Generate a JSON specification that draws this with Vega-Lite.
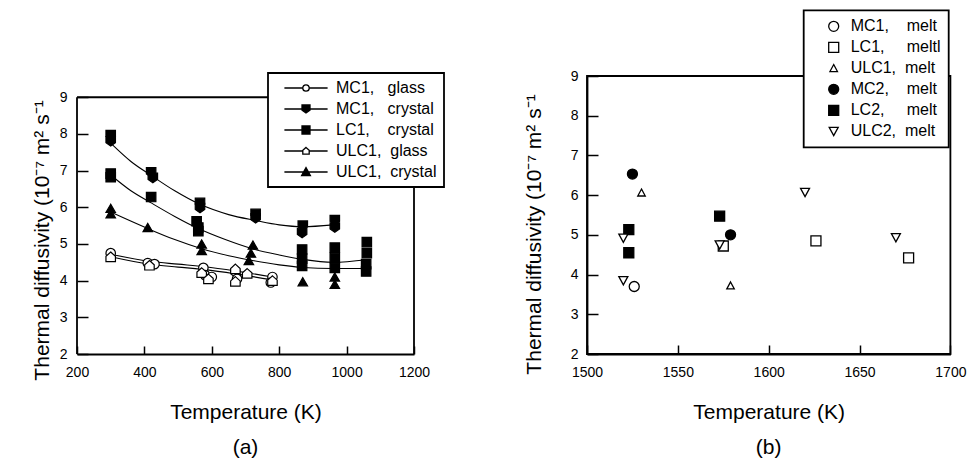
{
  "$schema": "https://vega.github.io/schema/vega-lite/v6.json",
  "padding": {"left": 31, "top": 8, "right": 5, "bottom": 0},
  "bounds": "flush",
  "spacing": 173,
  "resolve": {
    "scale": {"x": "independent", "y": "independent", "shape": "independent", "fill": "independent"},
    "legend": {"shape": "independent", "fill": "independent"}
  },
  "config": {
    "font": "Liberation Sans",
    "view": {"stroke": null},
    "axis": {"grid": false, "labelFontSize": 14, "titleFontSize": 21, "titleFontWeight": "normal", "labelColor": "black", "titleColor": "black", "tickColor": "black", "domainColor": "black", "domainWidth": 1.8, "tickWidth": 1.5, "labelFont": "Liberation Sans", "titleFont": "Liberation Sans", "labelOverlap": false, "labelFlush": false, "format": "d"},
    "legend": {"labelFontSize": 16, "labelColor": "black", "labelFont": "Liberation Sans", "strokeColor": "black", "fillColor": "white", "strokeWidth": 1.8, "rowPadding": 5, "labelLimit": 300, "symbolOpacity": 1},
    "title": {"fontSize": 21, "fontWeight": "normal", "color": "black", "font": "Liberation Sans"}
  },
  "datasets": {
    "fit_a": [
      {"series": "MC1,\u00a0\u00a0\u00a0crystal", "T": 300, "D": 7.75},
      {"series": "MC1,\u00a0\u00a0\u00a0crystal", "T": 360, "D": 7.25},
      {"series": "MC1,\u00a0\u00a0\u00a0crystal", "T": 420, "D": 6.87},
      {"series": "MC1,\u00a0\u00a0\u00a0crystal", "T": 490, "D": 6.45},
      {"series": "MC1,\u00a0\u00a0\u00a0crystal", "T": 565, "D": 6.08},
      {"series": "MC1,\u00a0\u00a0\u00a0crystal", "T": 650, "D": 5.8},
      {"series": "MC1,\u00a0\u00a0\u00a0crystal", "T": 730, "D": 5.64},
      {"series": "MC1,\u00a0\u00a0\u00a0crystal", "T": 800, "D": 5.52},
      {"series": "MC1,\u00a0\u00a0\u00a0crystal", "T": 870, "D": 5.47},
      {"series": "MC1,\u00a0\u00a0\u00a0crystal", "T": 960, "D": 5.52},
      {"series": "LC1,\u00a0\u00a0\u00a0\u00a0crystal", "T": 300, "D": 6.88},
      {"series": "LC1,\u00a0\u00a0\u00a0\u00a0crystal", "T": 360, "D": 6.45},
      {"series": "LC1,\u00a0\u00a0\u00a0\u00a0crystal", "T": 420, "D": 6.12},
      {"series": "LC1,\u00a0\u00a0\u00a0\u00a0crystal", "T": 490, "D": 5.75},
      {"series": "LC1,\u00a0\u00a0\u00a0\u00a0crystal", "T": 560, "D": 5.42},
      {"series": "LC1,\u00a0\u00a0\u00a0\u00a0crystal", "T": 640, "D": 5.12},
      {"series": "LC1,\u00a0\u00a0\u00a0\u00a0crystal", "T": 720, "D": 4.87},
      {"series": "LC1,\u00a0\u00a0\u00a0\u00a0crystal", "T": 800, "D": 4.7},
      {"series": "LC1,\u00a0\u00a0\u00a0\u00a0crystal", "T": 870, "D": 4.58},
      {"series": "LC1,\u00a0\u00a0\u00a0\u00a0crystal", "T": 960, "D": 4.5},
      {"series": "LC1,\u00a0\u00a0\u00a0\u00a0crystal", "T": 1060, "D": 4.57},
      {"series": "ULC1,\u00a0\u00a0crystal", "T": 300, "D": 5.87},
      {"series": "ULC1,\u00a0\u00a0crystal", "T": 410, "D": 5.42},
      {"series": "ULC1,\u00a0\u00a0crystal", "T": 490, "D": 5.12},
      {"series": "ULC1,\u00a0\u00a0crystal", "T": 570, "D": 4.87},
      {"series": "ULC1,\u00a0\u00a0crystal", "T": 650, "D": 4.68},
      {"series": "ULC1,\u00a0\u00a0crystal", "T": 720, "D": 4.55},
      {"series": "ULC1,\u00a0\u00a0crystal", "T": 800, "D": 4.43},
      {"series": "ULC1,\u00a0\u00a0crystal", "T": 870, "D": 4.36},
      {"series": "ULC1,\u00a0\u00a0crystal", "T": 960, "D": 4.33},
      {"series": "ULC1,\u00a0\u00a0crystal", "T": 1060, "D": 4.33},
      {"series": "MC1,\u00a0\u00a0\u00a0glass", "T": 300, "D": 4.72},
      {"series": "MC1,\u00a0\u00a0\u00a0glass", "T": 420, "D": 4.52},
      {"series": "MC1,\u00a0\u00a0\u00a0glass", "T": 500, "D": 4.45},
      {"series": "MC1,\u00a0\u00a0\u00a0glass", "T": 580, "D": 4.38},
      {"series": "MC1,\u00a0\u00a0\u00a0glass", "T": 680, "D": 4.25},
      {"series": "MC1,\u00a0\u00a0\u00a0glass", "T": 780, "D": 4.1},
      {"series": "ULC1,\u00a0\u00a0glass", "T": 300, "D": 4.65},
      {"series": "ULC1,\u00a0\u00a0glass", "T": 420, "D": 4.44},
      {"series": "ULC1,\u00a0\u00a0glass", "T": 500, "D": 4.37},
      {"series": "ULC1,\u00a0\u00a0glass", "T": 580, "D": 4.3},
      {"series": "ULC1,\u00a0\u00a0glass", "T": 680, "D": 4.17},
      {"series": "ULC1,\u00a0\u00a0glass", "T": 780, "D": 4.02}
    ],
    "obs_a": [
      {"series": "MC1,\u00a0\u00a0\u00a0crystal", "T": 300, "D": 7.97},
      {"series": "MC1,\u00a0\u00a0\u00a0crystal", "T": 300, "D": 7.8},
      {"series": "MC1,\u00a0\u00a0\u00a0crystal", "T": 420, "D": 6.95},
      {"series": "MC1,\u00a0\u00a0\u00a0crystal", "T": 425, "D": 6.8},
      {"series": "MC1,\u00a0\u00a0\u00a0crystal", "T": 565, "D": 6.12},
      {"series": "MC1,\u00a0\u00a0\u00a0crystal", "T": 565, "D": 5.98},
      {"series": "MC1,\u00a0\u00a0\u00a0crystal", "T": 730, "D": 5.82},
      {"series": "MC1,\u00a0\u00a0\u00a0crystal", "T": 730, "D": 5.7},
      {"series": "MC1,\u00a0\u00a0\u00a0crystal", "T": 870, "D": 5.5},
      {"series": "MC1,\u00a0\u00a0\u00a0crystal", "T": 868, "D": 5.3},
      {"series": "MC1,\u00a0\u00a0\u00a0crystal", "T": 965, "D": 5.65},
      {"series": "MC1,\u00a0\u00a0\u00a0crystal", "T": 965, "D": 5.45},
      {"series": "LC1,\u00a0\u00a0\u00a0\u00a0crystal", "T": 300, "D": 6.92},
      {"series": "LC1,\u00a0\u00a0\u00a0\u00a0crystal", "T": 300, "D": 6.82},
      {"series": "LC1,\u00a0\u00a0\u00a0\u00a0crystal", "T": 420, "D": 6.28},
      {"series": "LC1,\u00a0\u00a0\u00a0\u00a0crystal", "T": 555, "D": 5.62},
      {"series": "LC1,\u00a0\u00a0\u00a0\u00a0crystal", "T": 560, "D": 5.45},
      {"series": "LC1,\u00a0\u00a0\u00a0\u00a0crystal", "T": 560, "D": 5.35},
      {"series": "LC1,\u00a0\u00a0\u00a0\u00a0crystal", "T": 868, "D": 4.85},
      {"series": "LC1,\u00a0\u00a0\u00a0\u00a0crystal", "T": 868, "D": 4.6},
      {"series": "LC1,\u00a0\u00a0\u00a0\u00a0crystal", "T": 868, "D": 4.4},
      {"series": "LC1,\u00a0\u00a0\u00a0\u00a0crystal", "T": 965, "D": 4.9},
      {"series": "LC1,\u00a0\u00a0\u00a0\u00a0crystal", "T": 965, "D": 4.62},
      {"series": "LC1,\u00a0\u00a0\u00a0\u00a0crystal", "T": 965, "D": 4.35},
      {"series": "LC1,\u00a0\u00a0\u00a0\u00a0crystal", "T": 1060, "D": 5.05},
      {"series": "LC1,\u00a0\u00a0\u00a0\u00a0crystal", "T": 1060, "D": 4.75},
      {"series": "LC1,\u00a0\u00a0\u00a0\u00a0crystal", "T": 1058, "D": 4.45},
      {"series": "LC1,\u00a0\u00a0\u00a0\u00a0crystal", "T": 1058, "D": 4.25},
      {"series": "ULC1,\u00a0\u00a0crystal", "T": 300, "D": 5.97},
      {"series": "ULC1,\u00a0\u00a0crystal", "T": 300, "D": 5.82},
      {"series": "ULC1,\u00a0\u00a0crystal", "T": 410, "D": 5.45},
      {"series": "ULC1,\u00a0\u00a0crystal", "T": 570, "D": 5.0},
      {"series": "ULC1,\u00a0\u00a0crystal", "T": 570, "D": 4.82},
      {"series": "ULC1,\u00a0\u00a0crystal", "T": 722, "D": 4.97},
      {"series": "ULC1,\u00a0\u00a0crystal", "T": 716, "D": 4.75},
      {"series": "ULC1,\u00a0\u00a0crystal", "T": 710, "D": 4.55},
      {"series": "ULC1,\u00a0\u00a0crystal", "T": 870, "D": 3.97},
      {"series": "ULC1,\u00a0\u00a0crystal", "T": 965, "D": 4.1},
      {"series": "ULC1,\u00a0\u00a0crystal", "T": 965, "D": 3.9},
      {"series": "MC1,\u00a0\u00a0\u00a0glass", "T": 300, "D": 4.75},
      {"series": "MC1,\u00a0\u00a0\u00a0glass", "T": 410, "D": 4.48},
      {"series": "MC1,\u00a0\u00a0\u00a0glass", "T": 430, "D": 4.45},
      {"series": "MC1,\u00a0\u00a0\u00a0glass", "T": 575, "D": 4.35},
      {"series": "MC1,\u00a0\u00a0\u00a0glass", "T": 580, "D": 4.15},
      {"series": "MC1,\u00a0\u00a0\u00a0glass", "T": 600, "D": 4.1},
      {"series": "MC1,\u00a0\u00a0\u00a0glass", "T": 670, "D": 4.25},
      {"series": "MC1,\u00a0\u00a0\u00a0glass", "T": 675, "D": 4.05},
      {"series": "MC1,\u00a0\u00a0\u00a0glass", "T": 780, "D": 4.1},
      {"series": "MC1,\u00a0\u00a0\u00a0glass", "T": 775, "D": 3.95},
      {"series": "ULC1,\u00a0\u00a0glass", "T": 300, "D": 4.65},
      {"series": "ULC1,\u00a0\u00a0glass", "T": 415, "D": 4.42},
      {"series": "ULC1,\u00a0\u00a0glass", "T": 570, "D": 4.22},
      {"series": "ULC1,\u00a0\u00a0glass", "T": 590, "D": 4.05},
      {"series": "ULC1,\u00a0\u00a0glass", "T": 670, "D": 4.32},
      {"series": "ULC1,\u00a0\u00a0glass", "T": 670, "D": 3.98},
      {"series": "ULC1,\u00a0\u00a0glass", "T": 705, "D": 4.2},
      {"series": "ULC1,\u00a0\u00a0glass", "T": 780, "D": 4.0}
    ],
    "melt_b": [
      {"series": "MC1,\u00a0\u00a0\u00a0\u00a0melt", "T": 1526, "D": 3.7},
      {"series": "LC1,\u00a0\u00a0\u00a0\u00a0\u00a0meltl", "T": 1575, "D": 4.72},
      {"series": "LC1,\u00a0\u00a0\u00a0\u00a0\u00a0meltl", "T": 1626, "D": 4.85},
      {"series": "LC1,\u00a0\u00a0\u00a0\u00a0\u00a0meltl", "T": 1677, "D": 4.42},
      {"series": "ULC1,\u00a0\u00a0melt", "T": 1530, "D": 6.06},
      {"series": "ULC1,\u00a0\u00a0melt", "T": 1579, "D": 3.72},
      {"series": "MC2,\u00a0\u00a0\u00a0\u00a0melt", "T": 1525, "D": 6.53},
      {"series": "MC2,\u00a0\u00a0\u00a0\u00a0melt", "T": 1579, "D": 5.0},
      {"series": "LC2,\u00a0\u00a0\u00a0\u00a0\u00a0melt", "T": 1523, "D": 5.13},
      {"series": "LC2,\u00a0\u00a0\u00a0\u00a0\u00a0melt", "T": 1523, "D": 4.55},
      {"series": "LC2,\u00a0\u00a0\u00a0\u00a0\u00a0melt", "T": 1573, "D": 5.47},
      {"series": "ULC2,\u00a0\u00a0melt", "T": 1520, "D": 4.92},
      {"series": "ULC2,\u00a0\u00a0melt", "T": 1520, "D": 3.85},
      {"series": "ULC2,\u00a0\u00a0melt", "T": 1573, "D": 4.75},
      {"series": "ULC2,\u00a0\u00a0melt", "T": 1620, "D": 6.07},
      {"series": "ULC2,\u00a0\u00a0melt", "T": 1670, "D": 4.93}
    ]
  },
  "hconcat": [
    {
      "width": 337,
      "height": 278,
      "title": {"text": "(a)", "orient": "bottom", "offset": 15, "anchor": "middle"},
      "resolve": {
        "scale": {"shape": "independent", "fill": "independent"},
        "legend": {"shape": "independent", "fill": "independent"}
      },
      "layer": [
        {
          "data": {"values": [{}]},
          "mark": {"type": "rule", "strokeWidth": 1.8, "color": "black"},
          "encoding": {
            "x": {"datum": 200, "type": "quantitative", "scale": {"domain": [200, 1200], "nice": false, "zero": false}, "axis": {"values": [200, 400, 600, 800, 1000, 1200], "title": "Temperature (K)", "tickSize": -8, "labelPadding": 19, "titlePadding": 22, "labelFlush": false, "labelOverlap": false}},
            "y": {"datum": 2, "type": "quantitative", "scale": {"domain": [2, 9.58], "nice": false, "zero": false}, "axis": {"values": [2, 3, 4, 5, 6, 7, 8, 9], "title": "Thermal diffusivity (10⁻⁷ m² s⁻¹", "domain": false, "tickSize": -11, "labelPadding": 21, "titlePadding": 7, "titleY": 164, "labelFlush": false, "labelOverlap": false}},
            "y2": {"datum": 9}
          }
        },
        {
          "data": {"values": [{}]},
          "mark": {"type": "rule", "strokeWidth": 1.8, "color": "black"},
          "encoding": {
            "x": {"datum": 1200, "type": "quantitative", "scale": {"domain": [200, 1200], "nice": false, "zero": false}, "axis": {"values": [200, 400, 600, 800, 1000, 1200], "title": "Temperature (K)", "tickSize": -8, "labelPadding": 19, "titlePadding": 22, "labelFlush": false, "labelOverlap": false}},
            "y": {"datum": 2, "type": "quantitative", "scale": {"domain": [2, 9.58], "nice": false, "zero": false}, "axis": {"values": [2, 3, 4, 5, 6, 7, 8, 9], "title": "Thermal diffusivity (10⁻⁷ m² s⁻¹", "domain": false, "tickSize": -11, "labelPadding": 21, "titlePadding": 7, "titleY": 164, "labelFlush": false, "labelOverlap": false}},
            "y2": {"datum": 9}
          }
        },
        {
          "data": {"values": [{}]},
          "mark": {"type": "rule", "strokeWidth": 1.8, "color": "black"},
          "encoding": {
            "x": {"datum": 200, "type": "quantitative", "scale": {"domain": [200, 1200], "nice": false, "zero": false}, "axis": {"values": [200, 400, 600, 800, 1000, 1200], "title": "Temperature (K)", "tickSize": -8, "labelPadding": 19, "titlePadding": 22, "labelFlush": false, "labelOverlap": false}},
            "x2": {"datum": 1200},
            "y": {"datum": 9, "type": "quantitative", "scale": {"domain": [2, 9.58], "nice": false, "zero": false}, "axis": {"values": [2, 3, 4, 5, 6, 7, 8, 9], "title": "Thermal diffusivity (10⁻⁷ m² s⁻¹", "domain": false, "tickSize": -11, "labelPadding": 21, "titlePadding": 7, "titleY": 164, "labelFlush": false, "labelOverlap": false}}
          }
        },
        {
          "data": {"name": "fit_a"},
          "mark": {"type": "line", "interpolate": "monotone", "color": "black", "strokeWidth": 1.1},
          "encoding": {
            "x": {"field": "T", "type": "quantitative", "scale": {"domain": [200, 1200], "nice": false, "zero": false}, "axis": {"values": [200, 400, 600, 800, 1000, 1200], "title": "Temperature (K)", "tickSize": -8, "labelPadding": 19, "titlePadding": 22, "labelFlush": false, "labelOverlap": false}},
            "y": {"field": "D", "type": "quantitative", "scale": {"domain": [2, 9.58], "nice": false, "zero": false}, "axis": {"values": [2, 3, 4, 5, 6, 7, 8, 9], "title": "Thermal diffusivity (10⁻⁷ m² s⁻¹", "domain": false, "tickSize": -11, "labelPadding": 21, "titlePadding": 7, "titleY": 164, "labelFlush": false, "labelOverlap": false}},
            "detail": {"field": "series", "type": "nominal"}
          }
        },
        {
          "data": {"name": "obs_a"},
          "mark": {"type": "point", "filled": true, "stroke": "black", "strokeWidth": 1.2, "size": 90, "opacity": 1},
          "encoding": {
            "x": {"field": "T", "type": "quantitative", "scale": {"domain": [200, 1200], "nice": false, "zero": false}, "axis": {"values": [200, 400, 600, 800, 1000, 1200], "title": "Temperature (K)", "tickSize": -8, "labelPadding": 19, "titlePadding": 22, "labelFlush": false, "labelOverlap": false}},
            "y": {"field": "D", "type": "quantitative", "scale": {"domain": [2, 9.58], "nice": false, "zero": false}, "axis": {"values": [2, 3, 4, 5, 6, 7, 8, 9], "title": "Thermal diffusivity (10⁻⁷ m² s⁻¹", "domain": false, "tickSize": -11, "labelPadding": 21, "titlePadding": 7, "titleY": 164, "labelFlush": false, "labelOverlap": false}},
            "shape": {
              "field": "series", "type": "nominal",
              "scale": {
                "domain": ["MC1,\u00a0\u00a0\u00a0glass", "MC1,\u00a0\u00a0\u00a0crystal", "LC1,\u00a0\u00a0\u00a0\u00a0crystal", "ULC1,\u00a0\u00a0glass", "ULC1,\u00a0\u00a0crystal"],
                "range": ["circle", "M-1,-1H1V0.3L0,1L-1,0.3Z", "square", "M0,-1L1,-0.1V1H-1V-0.1Z", "triangle-up"]
              },
              "legend": null
            },
            "fill": {
              "field": "series", "type": "nominal",
              "scale": {
                "domain": ["MC1,\u00a0\u00a0\u00a0glass", "MC1,\u00a0\u00a0\u00a0crystal", "LC1,\u00a0\u00a0\u00a0\u00a0crystal", "ULC1,\u00a0\u00a0glass", "ULC1,\u00a0\u00a0crystal"],
                "range": ["white", "black", "black", "white", "black"]
              },
              "legend": null
            }
          }
        },
        {
          "data": {"name": "obs_a"},
          "mark": {"type": "point", "filled": true, "stroke": "black", "strokeWidth": 1.3, "size": 64, "opacity": 0},
          "encoding": {
            "x": {"field": "T", "type": "quantitative", "scale": {"domain": [200, 1200], "nice": false, "zero": false}, "axis": {"values": [200, 400, 600, 800, 1000, 1200], "title": "Temperature (K)", "tickSize": -8, "labelPadding": 19, "titlePadding": 22, "labelFlush": false, "labelOverlap": false}},
            "y": {"field": "D", "type": "quantitative", "scale": {"domain": [2, 9.58], "nice": false, "zero": false}, "axis": {"values": [2, 3, 4, 5, 6, 7, 8, 9], "title": "Thermal diffusivity (10⁻⁷ m² s⁻¹", "domain": false, "tickSize": -11, "labelPadding": 21, "titlePadding": 7, "titleY": 164, "labelFlush": false, "labelOverlap": false}},
            "shape": {
              "field": "series", "type": "nominal",
              "scale": {
                "domain": ["MC1,\u00a0\u00a0\u00a0glass", "MC1,\u00a0\u00a0\u00a0crystal", "LC1,\u00a0\u00a0\u00a0\u00a0crystal", "ULC1,\u00a0\u00a0glass", "ULC1,\u00a0\u00a0crystal"],
                "range": ["M-5.4,0H-0.8M0.8,0H5.4M0.8,0A0.8,0.8,0,1,1,-0.8,0A0.8,0.8,0,1,1,0.8,0Z", "M-5.4,0H5.4M-1,-1H1V0.3L0,1L-1,0.3Z", "M-5.4,0H5.4M-1,-1H1V1H-1Z", "M-5.4,0H-0.8M0.8,0H5.4M0,-0.9L0.8,-0.2V0.8H-0.8V-0.2Z", "M-5.4,0H5.4M0,-1.1L1.1,0.9H-1.1Z"]
              },
              "legend": {
                "orient": "none", "legendX": 191, "legendY": -3, "title": null, "padding": 7,
                "symbolSize": 64, "symbolOffset": 23, "labelOffset": 22, "symbolOpacity": 1, "symbolStrokeWidth": 1.3
              }
            },
            "fill": {
              "field": "series", "type": "nominal",
              "scale": {
                "domain": ["MC1,\u00a0\u00a0\u00a0glass", "MC1,\u00a0\u00a0\u00a0crystal", "LC1,\u00a0\u00a0\u00a0\u00a0crystal", "ULC1,\u00a0\u00a0glass", "ULC1,\u00a0\u00a0crystal"],
                "range": ["white", "black", "black", "white", "black"]
              },
              "legend": {"title": null}
            }
          }
        }
      ]
    },
    {
      "width": 363.4,
      "height": 278,
      "view": {"stroke": "black", "strokeWidth": 1.8},
      "title": {"text": "(b)", "orient": "bottom", "offset": 15, "anchor": "middle"},
      "data": {"name": "melt_b"},
      "mark": {"type": "point", "filled": true, "stroke": "black", "strokeWidth": 1.3, "size": 100, "opacity": 1},
      "encoding": {
        "x": {"field": "T", "type": "quantitative", "scale": {"domain": [1500, 1700], "nice": false, "zero": false}, "axis": {"values": [1500, 1550, 1600, 1650, 1700], "title": "Temperature (K)", "tickSize": -9, "labelPadding": 20, "titlePadding": 22, "labelFlush": false, "labelOverlap": false}},
        "y": {"field": "D", "type": "quantitative", "scale": {"domain": [2, 9], "nice": false, "zero": false}, "axis": {"values": [2, 3, 4, 5, 6, 7, 8, 9], "title": "Thermal diffusivity (10⁻⁷ m² s⁻¹", "tickSize": -11, "labelPadding": 20, "titlePadding": 26, "titleY": 158, "labelFlush": false, "labelOverlap": false}},
        "shape": {
          "field": "series", "type": "nominal",
          "scale": {
            "domain": ["MC1,\u00a0\u00a0\u00a0\u00a0melt", "LC1,\u00a0\u00a0\u00a0\u00a0\u00a0meltl", "ULC1,\u00a0\u00a0melt", "MC2,\u00a0\u00a0\u00a0\u00a0melt", "LC2,\u00a0\u00a0\u00a0\u00a0\u00a0melt", "ULC2,\u00a0\u00a0melt"],
            "range": ["circle", "square", "M0,-0.75L0.75,0.65H-0.75Z", "circle", "square", "M-0.9,-0.8H0.9L0,0.85Z"]
          },
          "legend": {
            "orient": "none", "legendX": 216.7, "legendY": -65.7, "title": null, "padding": 8,
            "symbolSize": 100, "symbolOffset": 14, "labelOffset": 9, "symbolStrokeWidth": 1.3
          }
        },
        "fill": {
          "field": "series", "type": "nominal",
          "scale": {
            "domain": ["MC1,\u00a0\u00a0\u00a0\u00a0melt", "LC1,\u00a0\u00a0\u00a0\u00a0\u00a0meltl", "ULC1,\u00a0\u00a0melt", "MC2,\u00a0\u00a0\u00a0\u00a0melt", "LC2,\u00a0\u00a0\u00a0\u00a0\u00a0melt", "ULC2,\u00a0\u00a0melt"],
            "range": ["white", "white", "white", "black", "black", "white"]
          },
          "legend": {"title": null}
        }
      }
    }
  ]
}
